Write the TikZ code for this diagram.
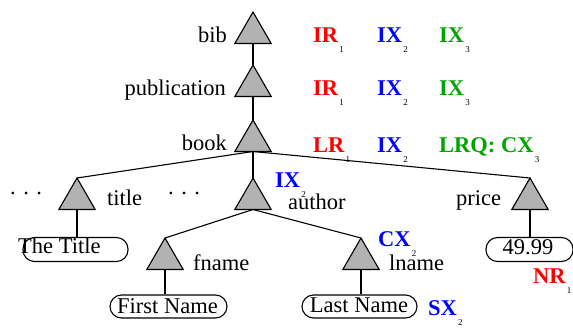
\documentclass[tikz,border=0pt]{standalone}
\usepackage{fontspec}
\setmainfont{Liberation Serif}
\usetikzlibrary{shapes.geometric}
\definecolor{annred}{RGB}{255,0,0}
\definecolor{annblue}{RGB}{0,0,255}
\definecolor{anngreen}{RGB}{0,165,0}
% small black index set below the right end of an annotation
\newcommand{\subidx}[1]{\hspace{1.2pt}\raisebox{-10.5pt}{\normalfont\color{black}\fontsize{9}{9}\selectfont #1}}

\begin{document}
\begin{tikzpicture}[x=1pt,y=-1pt,
  elem/.style={regular polygon, regular polygon sides=3, minimum size=42pt,
    inner sep=0pt, outer sep=0pt, draw=black, fill=black!30, line width=1.1pt},
  edge/.style={line width=1.1pt},
  tagname/.style={inner sep=0pt, font=\fontsize{22.5}{24}\selectfont},
  valbox/.style={draw, line width=1.1pt, rounded corners=11.5pt, inner sep=0pt,
    minimum height=24pt},
  ann/.style={inner sep=0pt, anchor=base west, font=\fontsize{22.5}{24}\selectfont\bfseries},
]
\useasboundingbox (0,0) rectangle (573,327);

% element triangles
\node[elem] (bib)    at (253,33)  {};
\node[elem] (pub)    at (253,86)  {};
\node[elem] (book)   at (253,141) {};
\node[elem] (title)  at (77,199)  {};
\node[elem] (author) at (253,199) {};
\node[elem] (price)  at (530,199) {};
\node[elem] (fname)  at (165,259) {};
\node[elem] (lname)  at (361,259) {};

% value boxes
\node[valbox, minimum width=105pt] (titlebox) at (75.5,249.5) {};
\node[valbox, minimum width=117pt, minimum height=23pt] (fnamebox) at (168.5,306.5) {};
\node[valbox, minimum width=115pt, minimum height=23pt] (lnamebox) at (359.5,306.5) {};
\node[valbox, minimum width=87pt] (pricebox) at (529.5,249.5) {};

% tree edges
\draw[edge] (bib.south) -- (pub.north);
\draw[edge] (pub.south) -- (book.north);
\draw[edge] (book.south) -- (title.north);
\draw[edge] (book.south) -- (author.north);
\draw[edge] (book.south) -- (price.north);
\draw[edge] (author.south) -- (fname.north);
\draw[edge] (author.south) -- (lname.north);
\draw[edge] (title.south) -- (title.south |- titlebox.north);
\draw[edge] (fname.south) -- (fname.south |- fnamebox.north);
\draw[edge] (lname.south) -- (lname.south |- lnamebox.north);
\draw[edge] (price.south) -- (price.south |- pricebox.north);

% values
\node[tagname, anchor=base west] (titletext) at (18,253) {The Title};
\node[tagname, anchor=base] (fnametext) at (167.5,313) {First Name};
\node[tagname, anchor=base] (lnametext) at (359,312) {Last Name};
\node[tagname, anchor=base] (pricetext) at (528,254) {49.99};

% element names
\node[tagname, anchor=base east] (nbib)    at (227,42)  {bib};
\node[tagname, anchor=base east] (npub)    at (226,95)  {publication};
\node[tagname, anchor=base east] (nbook)   at (227,150) {book};
\node[tagname, anchor=base west] (ntitle)  at (107,205) {title};
\node[tagname, anchor=base west] (nauthor) at (288,209) {author};
\node[tagname, anchor=base west] (nprice)  at (456,205) {price};
\node[tagname, anchor=base west] (nfname)  at (193,270) {fname};
\node[tagname, anchor=base west] (nlname)  at (389,270) {lname};
\node[tagname, anchor=base west] (dotsa)   at (10,194)  {. . .};
\node[tagname, anchor=base west] (dotsb)   at (168,194) {. . .};

% annotations
\node[ann, annred]   (a11) at (313,42)  {IR\subidx{1}};
\node[ann, annblue]  (a12) at (377,42)  {IX\subidx{2}};
\node[ann, anngreen] (a13) at (439,42)  {IX\subidx{3}};
\node[ann, annred]   (a21) at (313,95)  {IR\subidx{1}};
\node[ann, annblue]  (a22) at (377,95)  {IX\subidx{2}};
\node[ann, anngreen] (a23) at (439,95)  {IX\subidx{3}};
\node[ann, annred]   (a31) at (313,152) {LR\subidx{1}};
\node[ann, annblue]  (a32) at (377,152) {IX\subidx{2}};
\node[ann, anngreen] (a33) at (439,152) {LRQ: CX\subidx{3}};
\node[ann, annblue]  (a41) at (275,187) {IX\subidx{2}};
\node[ann, annblue]  (a51) at (378,246) {CX\subidx{2}};
\node[ann, annblue]  (a61) at (428,315) {SX\subidx{2}};
\node[ann, annred]   (a71) at (533,283) {NR\subidx{1}};
\end{tikzpicture}
\end{document}
